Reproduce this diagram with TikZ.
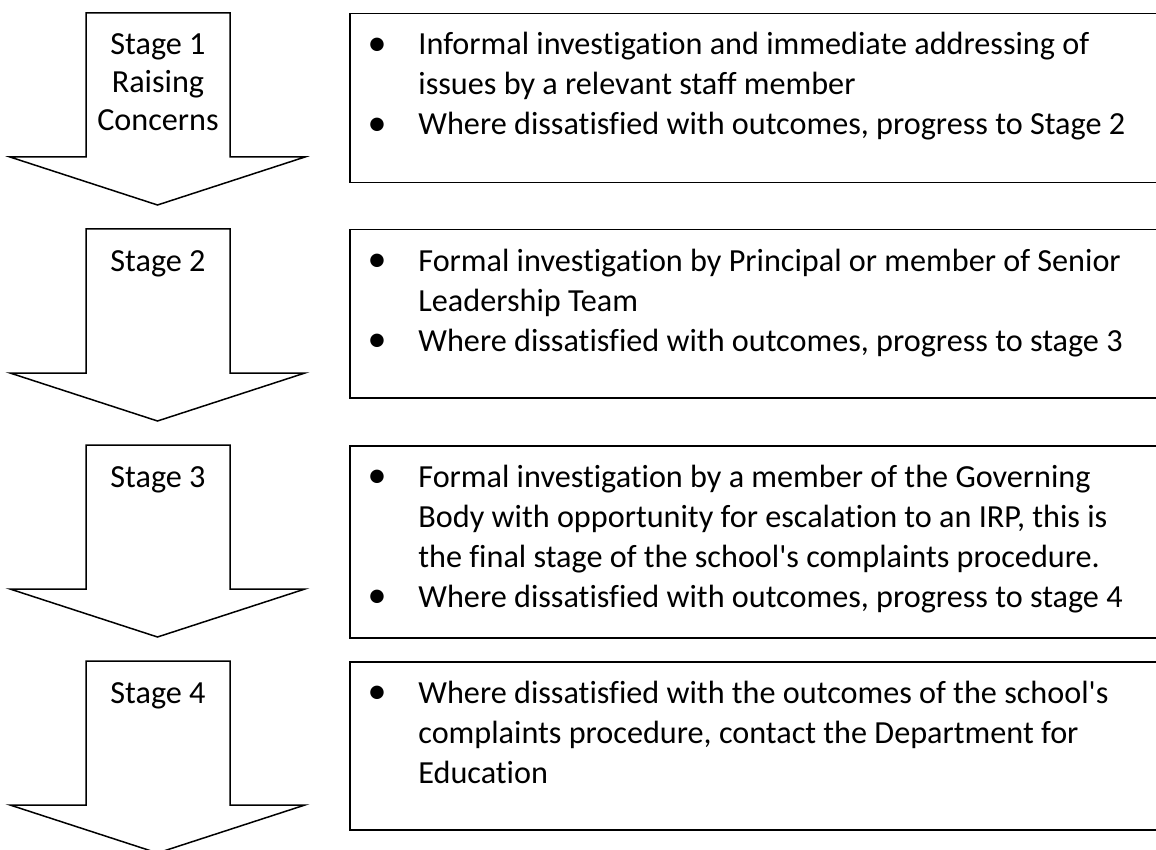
\documentclass[tikz,border=0pt]{standalone}
\usepackage{fontspec}
\setmainfont{Carlito}[Ligatures=NoCommon]
\usetikzlibrary{positioning,calc}

\begin{document}
\begin{tikzpicture}[
    x=0.5pt, y=-0.5pt,
    arrowshape/.style={draw, line width=0.75pt, line join=miter, fill=white},
    stagebox/.style={draw, line width=0.75pt, anchor=north west, minimum width=420pt, inner sep=0pt},
    txt/.style={font=\fontsize{16.1}{20}\selectfont, inner sep=0pt},
    label/.style={txt, anchor=base, align=center},
    item/.style={txt, anchor=base west, align=left},
    dot/.style={font=\fontsize{19}{20}\selectfont, inner sep=0pt, anchor=center}
]
\useasboundingbox (0,0) rectangle (1156,850);
\clip (0,0) rectangle (1156,850);

% block arrows on the left
\foreach \t in {13,229,445,661} {
  \draw[arrowshape] (86,\t) -- (230,\t) -- (230,\t+144) -- (305,\t+144)
    -- (157.5,\t+192) -- (10,\t+144) -- (86,\t+144) -- cycle;
}
\node[label, font=\fontsize{16.1}{19}\selectfont] (stage1) at (158,131) {Stage 1\\Raising\\Concerns};
\node[label] (stage2) at (158,271) {Stage 2};
\node[label] (stage3) at (158,487) {Stage 3};
\node[label] (stage4) at (158,703) {Stage 4};

% boxes on the right
\node[stagebox, minimum height=84.5pt] (box1) at (349,13) {};
\node[stagebox, minimum height=84pt] (box2) at (349,229) {};
\node[stagebox, minimum height=96pt] (box3) at (349,445) {};
\node[stagebox, minimum height=84pt] (box4) at (349,661) {};

% bullet points (base anchor = last line)
\node[dot] (d11) at ($(box1.north west)+(28,34)$) {\textbullet};
\node[item] (t11) at ($(box1.north west)+(69,82)$) {Informal investigation and immediate addressing of\\issues by a relevant staff member};
\node[dot] (d12) at ($(box1.north west)+(28,114)$) {\textbullet};
\node[item] (t12) at ($(box1.north west)+(69,122)$) {Where dissatisfied with outcomes, progress to Stage 2};

\node[dot] (d21) at ($(box2.north west)+(28,34)$) {\textbullet};
\node[item] (t21) at ($(box2.north west)+(69,82)$) {Formal investigation by Principal or member of Senior\\Leadership Team};
\node[dot] (d22) at ($(box2.north west)+(28,114)$) {\textbullet};
\node[item] (t22) at ($(box2.north west)+(69,122)$) {Where dissatisfied with outcomes, progress to stage 3};

\node[dot] (d31) at ($(box3.north west)+(28,34)$) {\textbullet};
\node[item] (t31) at ($(box3.north west)+(69,122)$) {Formal investigation by a member of the Governing\\Body with opportunity for escalation to an IRP, this is\\the final stage of the school\textquotesingle s complaints procedure.};
\node[dot] (d32) at ($(box3.north west)+(28,154)$) {\textbullet};
\node[item] (t32) at ($(box3.north west)+(69,162)$) {Where dissatisfied with outcomes, progress to stage 4};

\node[dot] (d41) at ($(box4.north west)+(28,34)$) {\textbullet};
\node[item] (t41) at ($(box4.north west)+(69,122)$) {Where dissatisfied with the outcomes of the school\textquotesingle s\\complaints procedure, contact the Department for\\Education};
\end{tikzpicture}
\end{document}
